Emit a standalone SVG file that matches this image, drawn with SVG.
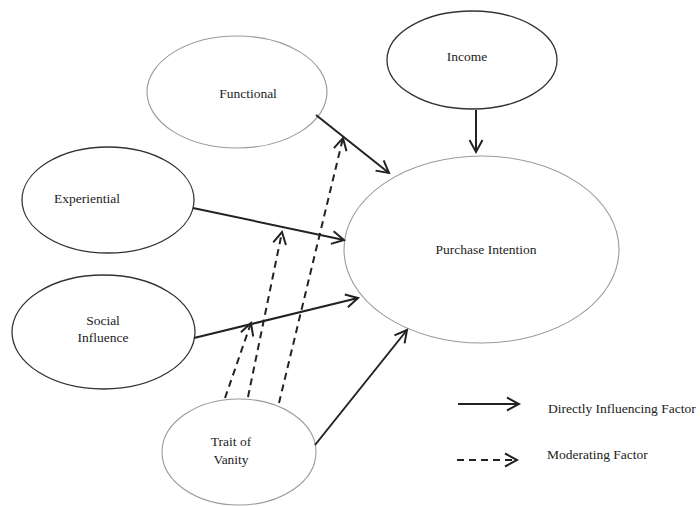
<svg xmlns="http://www.w3.org/2000/svg" width="700" height="506" viewBox="0 0 700 506">
  <defs>
    <marker id="chev" markerUnits="userSpaceOnUse" markerWidth="20" markerHeight="20" viewBox="-14 -10 20 20" refX="0" refY="0" orient="auto">
      <path d="M-12,-6.5 L0,0 L-12,6.5" fill="none" stroke="#222" stroke-width="2" stroke-linejoin="miter"/>
    </marker>
    <style>
      .node-light { fill: #fff; stroke: #9a9a9a; stroke-width: 1.1; }
      .node-dark { fill: #fff; stroke: #333; stroke-width: 1.3; }
      text { font-family: 'Liberation Serif', 'Times New Roman', Times, serif; font-size: 13.5px; fill: #222; }
      .lbl { text-anchor: middle; }
      .direct { stroke: #222; stroke-width: 2; fill: none; marker-end: url(#chev); }
      .moderate { stroke: #222; stroke-width: 2; fill: none; stroke-dasharray: 7 5; marker-end: url(#chev); }
    </style>
  </defs>
  <rect width="700" height="506" fill="#fff"/>

  <g id="node-functional">
    <ellipse class="node-light" cx="237" cy="92" rx="90" ry="56"/>
    <text class="lbl" x="248" y="98" font-family="Liberation Serif">Functional</text>
  </g>
  <g id="node-income">
    <ellipse class="node-dark" cx="472" cy="60" rx="85" ry="49"/>
    <text class="lbl" x="467" y="61" font-family="Liberation Serif">Income</text>
  </g>
  <g id="node-experiential">
    <ellipse class="node-dark" cx="108" cy="200" rx="86" ry="53"/>
    <text class="lbl" x="87" y="203" font-family="Liberation Serif">Experiential</text>
  </g>
  <g id="node-social">
    <ellipse class="node-dark" cx="103.5" cy="332" rx="91.5" ry="57"/>
    <text class="lbl" x="103" y="325" font-family="Liberation Serif">Social</text>
    <text class="lbl" x="103" y="342" font-family="Liberation Serif">Influence</text>
  </g>
  <g id="node-vanity">
    <ellipse class="node-light" cx="239" cy="452" rx="77" ry="53"/>
    <text class="lbl" x="231" y="446" font-family="Liberation Serif">Trait of</text>
    <text class="lbl" x="231" y="464" font-family="Liberation Serif">Vanity</text>
  </g>
  <g id="node-purchase">
    <ellipse class="node-light" cx="481.5" cy="249.5" rx="137.5" ry="93.5"/>
    <text class="lbl" x="486" y="254" font-family="Liberation Serif">Purchase Intention</text>
  </g>

  <g id="connectors">
    <line class="direct" x1="476" y1="110" x2="476" y2="152"/>
    <line class="direct" x1="316" y1="115" x2="389" y2="173"/>
    <line class="direct" x1="193" y1="208" x2="344" y2="240"/>
    <line class="direct" x1="194" y1="338" x2="358" y2="298"/>
    <line class="direct" x1="315" y1="445" x2="407" y2="330"/>
    <line class="moderate" x1="225" y1="398" x2="251" y2="323"/>
    <line class="moderate" x1="248" y1="397" x2="282" y2="232"/>
    <line class="moderate" x1="279" y1="403" x2="343" y2="138"/>
  </g>

  <g id="legend">
    <line class="direct" x1="458" y1="404" x2="519" y2="404"/>
    <text x="548" y="413" font-family="Liberation Serif">Directly Influencing Factor</text>
    <line class="moderate" x1="457" y1="460" x2="517" y2="460"/>
    <text x="547" y="459" font-family="Liberation Serif">Moderating Factor</text>
  </g>
</svg>
